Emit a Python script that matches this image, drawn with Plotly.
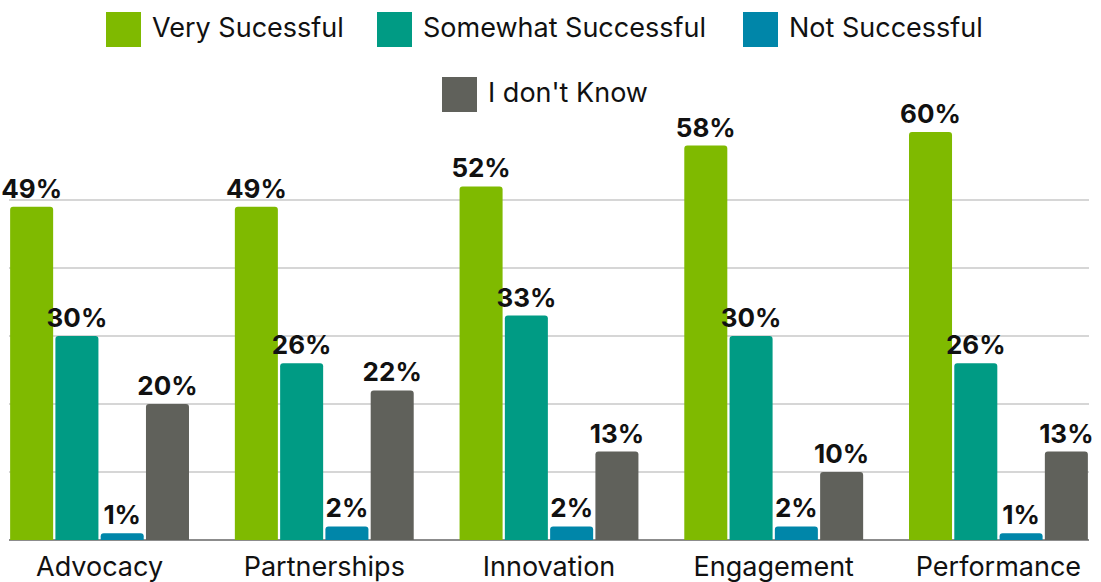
import plotly.graph_objects as go

categories = ["Advocacy", "Partnerships", "Innovation", "Engagement", "Performance"]
series_names = ["Very Sucessful", "Somewhat Successful", "Not Successful", "I don't Know"]
very_successful = [49, 49, 52, 58, 60]
somewhat_successful = [30, 26, 33, 30, 26]
not_successful = [1, 2, 2, 2, 1]
dont_know = [20, 22, 13, 10, 13]
colors = ["#7fba00", "#009b84", "#0086a9", "#60615b"]

FONT = "Inter, 'Noto Sans', sans-serif"
W, H = 1101, 582
ML, MR, MT, MB = 9, 12, 132, 42

fig = go.Figure()
for name, vals, col in zip(series_names,
                           [very_successful, somewhat_successful, not_successful, dont_know],
                           colors):
    fig.add_trace(go.Bar(
        x=categories, y=vals, name=name,
        marker=dict(color=col, line=dict(width=0)),
        text=[f"{v}%" for v in vals],
        textposition="outside",
        constraintext="none",
        textfont=dict(family=FONT, size=26, color="#111111", weight="bold"),
        cliponaxis=False,
        showlegend=False,
    ))

# legend drawn in pixel space: (swatch left x, swatch top y)
legend_items = [(106, 12), (377, 12), (743, 12), (442, 77)]
sw = 35
shapes = []
annotations = []
pw = W - ML - MR
ph = H - MT - MB


def px_to_paper_x(px):
    return (px - ML) / pw


def px_to_paper_y(py):
    return (H - MB - py) / ph


for (lx, ly), name, col in zip(legend_items, series_names, colors):
    shapes.append(dict(type="rect", xref="paper", yref="paper",
                       x0=px_to_paper_x(lx), x1=px_to_paper_x(lx + sw),
                       y0=px_to_paper_y(ly + sw), y1=px_to_paper_y(ly),
                       fillcolor=col, line=dict(width=0), layer="above"))
    annotations.append(dict(xref="paper", yref="paper",
                            x=px_to_paper_x(lx + sw + 9), y=px_to_paper_y(ly + sw / 2),
                            xanchor="left", yanchor="middle", showarrow=False, yshift=2,
                            text=name, font=dict(family=FONT, size=27, color="#111111")))

fig.update_layout(
    width=W, height=H,
    margin=dict(l=ML, r=MR, t=MT, b=MB, pad=0, autoexpand=False),
    paper_bgcolor="white", plot_bgcolor="white",
    barmode="group", bargap=0.194, bargroupgap=0.05,
    barcornerradius=3,
    font=dict(family=FONT, color="#111111"),
    shapes=shapes, annotations=annotations,
    showlegend=False,
    xaxis=dict(type="category", range=[-0.403, 4.403], showgrid=False,
               showline=False, ticks="", ticklabelstandoff=8, automargin=False,
               tickfont=dict(family=FONT, size=27, color="#111111")),
    yaxis=dict(range=[0, 60], dtick=10, showticklabels=False, showgrid=True,
               gridcolor="#d6d6d6", gridwidth=1.5, zeroline=True, automargin=False,
               zerolinecolor="#8c8c8c", zerolinewidth=1.5, fixedrange=True),
)

fig.write_html("out.html")
